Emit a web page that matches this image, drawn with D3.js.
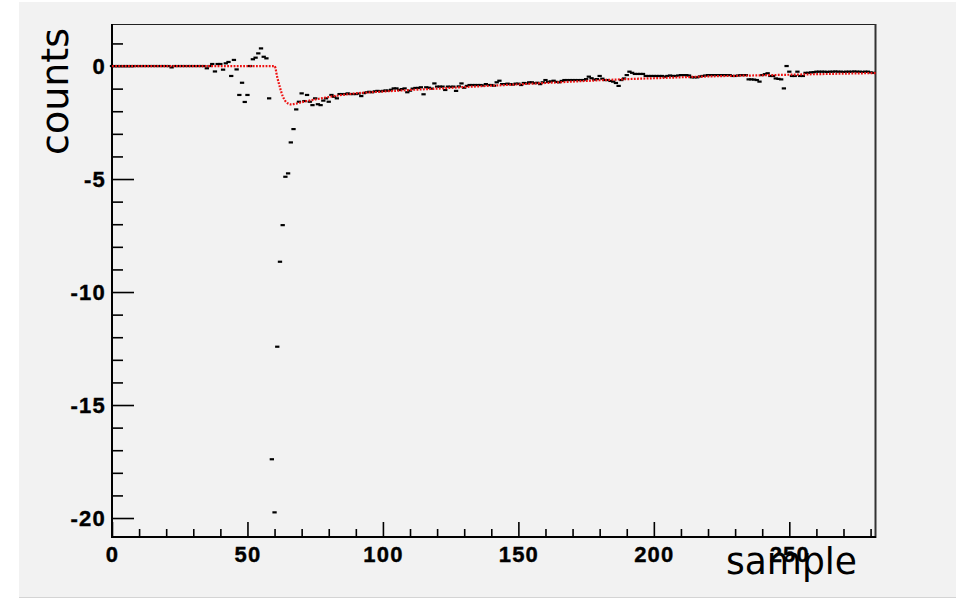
<!DOCTYPE html>
<html>
<head>
<meta charset="utf-8">
<script src="https://cdn.jsdelivr.net/npm/d3@7"></script>
<style>
	body { margin: 0; background: white; }
	svg { display: block; }
</style>
</head>
<body>
<svg id="chart" width="958" height="599"></svg>
<script>

// sample values, one per bin (bins 0..281)
let samples = [
	0, 0, 0, 0, 0, 0, 0, 0, 0, 0,
	0, 0, 0, 0, 0, 0, 0, 0, 0, 0,
	0, 0, -0.06, 0, 0, 0, 0, 0, 0, 0,
	0, 0, 0, 0, 0, -0.10, 0, 0.09, -0.24, 0.09,
	0.09, -0.16, 0.12, 0.18, -0.44, 0.27, -0.15, -1.28, -0.74, -1.59,
	-1.28, 0, 0.30, 0.37, 0.56, 0.78, 0.41, 0.34, -1.43, -17.4,
	-19.75, -12.42, -8.66, -7.04, -4.9, -4.75, -3.38, -2.79, -1.92, -1.58,
	-1.21, -1.55, -1.28, -1.58, -1.73, -1.43, -1.69, -1.73, -1.53, -1.43,
	-1.58, -1.28, -1.36, -1.43, -1.24, -1.24, -1.24, -1.21, -1.24, -1.24,
	-1.24, -1.22, -1.33, -1.20, -1.16, -1.14, -1.16, -1.12, -1.10, -1.12,
	-1.10, -1.08, -1.09, -1.05, -0.99, -0.99, -1.06, -1.02, -0.99, -1.16,
	-1.09, -1.00, -0.97, -0.97, -0.94, -1.25, -0.94, -0.96, -1.00, -0.77,
	-0.91, -0.91, -0.91, -1.06, -0.91, -0.92, -0.91, -1.10, -0.90, -0.77,
	-0.96, -0.88, -0.84, -0.84, -0.84, -0.84, -0.84, -0.86, -0.80, -0.84,
	-0.84, -0.87, -0.72, -0.65, -0.80, -0.80, -0.78, -0.80, -0.82, -0.78,
	-0.78, -0.84, -0.75, -0.77, -0.72, -0.72, -0.76, -0.74, -0.80, -0.72,
	-0.62, -0.70, -0.68, -0.65, -0.70, -0.72, -0.66, -0.62, -0.62, -0.62,
	-0.62, -0.62, -0.62, -0.62, -0.62, -0.58, -0.47, -0.54, -0.60, -0.58,
	-0.44, -0.56, -0.62, -0.62, -0.66, -0.69, -0.75, -0.88, -0.62, -0.55,
	-0.40, -0.25, -0.30, -0.35, -0.35, -0.35, -0.35, -0.44, -0.44, -0.44,
	-0.44, -0.44, -0.44, -0.44, -0.47, -0.44, -0.42, -0.44, -0.44, -0.42,
	-0.40, -0.40, -0.40, -0.42, -0.50, -0.50, -0.50, -0.46, -0.44, -0.42,
	-0.40, -0.40, -0.40, -0.40, -0.40, -0.40, -0.40, -0.40, -0.40, -0.44,
	-0.44, -0.42, -0.40, -0.40, -0.40, -0.59, -0.59, -0.60, -0.62, -0.69,
	-0.40, -0.36, -0.32, -0.44, -0.44, -0.55, -0.57, -0.59, -0.99, 0.0,
	-0.25, -0.44, -0.44, -0.25, -0.44, -0.44, -0.30, -0.30, -0.28, -0.27,
	-0.25, -0.25, -0.25, -0.25, -0.26, -0.25, -0.25, -0.24, -0.25, -0.25,
	-0.26, -0.25, -0.25, -0.25, -0.24, -0.25, -0.25, -0.26, -0.25, -0.25,
	-0.28, -0.30
];

// fit curve knots
let fitX = [0, 60, 61, 62, 63, 64, 65, 66, 68, 70, 75, 80, 85, 90, 100, 110, 120, 130, 140, 150, 160, 170, 180, 190, 200, 220, 240, 260, 282];
let fitY = [0, 0, -0.5, -0.95, -1.33, -1.55, -1.66, -1.7, -1.66, -1.6, -1.48, -1.37, -1.28, -1.21, -1.13, -1.06, -1.0, -0.93, -0.87, -0.81, -0.75, -0.69, -0.63, -0.58, -0.54, -0.46, -0.41, -0.36, -0.31];

let xMajor = [0, 50, 100, 150, 200, 250];
let xMinor = [10, 20, 30, 40, 60, 70, 80, 90, 110, 120, 130, 140, 160, 170, 180, 190, 210, 220, 230, 240, 260, 270, 280];
let yMajor = [0, -5, -10, -15, -20];
let yMinor = [1, -1, -2, -3, -4, -6, -7, -8, -9, -11, -12, -13, -14, -16, -17, -18, -19];

let svg = d3.select('#chart');

// grey canvas
svg.append('rect')
	.attr('x', 19).attr('y', 2)
	.attr('width', 937).attr('height', 595)
	.attr('fill', '#f2f2f2');
svg.append('line')
	.attr('x1', 19).attr('x2', 956)
	.attr('y1', 597.5).attr('y2', 597.5)
	.attr('stroke', '#d4d4d4');

let x = d3.scaleLinear().domain([0, 282]).range([112, 876]);
let y = d3.scaleLinear().domain([-20.84, 1.86]).range([537, 24]);

let tickFont = 'bold 22px "Liberation Sans", Arial, sans-serif';
let plain = d => String(d);  // keep a plain hyphen for negatives

// x axis
let gx = svg.append('g').attr('transform', 'translate(0,537)');
gx.call(d3.axisBottom(x).tickValues(xMajor).tickSize(-15).tickPadding(9).tickFormat(plain));
gx.append('g').call(d3.axisBottom(x).tickValues(xMinor).tickSize(-8).tickFormat(''));
gx.selectAll('.domain').remove();

// y axis
let gy = svg.append('g').attr('transform', 'translate(112,0)');
gy.call(d3.axisLeft(y).tickValues(yMajor).tickSize(-22).tickPadding(6).tickFormat(plain));
gy.append('g').call(d3.axisLeft(y).tickValues(yMinor).tickSize(-11).tickFormat(''));
gy.selectAll('.domain').remove();

svg.selectAll('.tick text')
	.style('font', tickFont)
	.style('letter-spacing', '1.2px')
	.attr('fill', 'black')
	.attr('stroke', 'black')
	.attr('stroke-width', 0.4);
svg.selectAll('.tick line').attr('stroke', 'black').attr('stroke-width', 1.6);

// frame
svg.append('line').attr('x1', 112).attr('x2', 876).attr('y1', 24.5).attr('y2', 24.5).attr('stroke', '#222').attr('stroke-width', 1);
svg.append('line').attr('x1', 875.5).attr('x2', 875.5).attr('y1', 24).attr('y2', 538).attr('stroke', '#333').attr('stroke-width', 2);
svg.append('line').attr('x1', 112).attr('x2', 112).attr('y1', 24).attr('y2', 538).attr('stroke', 'black').attr('stroke-width', 2);
svg.append('line').attr('x1', 111).attr('x2', 876).attr('y1', 537).attr('y2', 537).attr('stroke', 'black').attr('stroke-width', 2);

// samples as short bin-wide dashes
svg.append('g')
	.selectAll('line')
	.data(samples)
	.join('line')
	.attr('x1', (d, i) => x(i - 0.5) - 0.8)
	.attr('x2', (d, i) => x(i + 0.5) + 0.8)
	.attr('y1', d => y(d))
	.attr('y2', d => y(d))
	.attr('stroke', 'black')
	.attr('stroke-width', 2.2);

// fit, dotted red
let fitLine = d3.line()
	.x(d => x(d[0]))
	.y(d => y(d[1]))
	.curve(d3.curveMonotoneX);
svg.append('path')
	.attr('d', fitLine(d3.zip(fitX, fitY)))
	.attr('fill', 'none')
	.attr('stroke', '#ee1111')
	.attr('stroke-width', 2.2)
	.attr('stroke-dasharray', '1.8,1.4');

// axis titles
svg.append('text')
	.attr('transform', 'translate(68,91.5) rotate(-90)')
	.attr('text-anchor', 'middle')
	.attr('textLength', 127)
	.attr('lengthAdjust', 'spacingAndGlyphs')
	.style('font', '38px "DejaVu Sans", sans-serif')
	.text('counts');
svg.append('text')
	.attr('x', 857).attr('y', 574)
	.attr('text-anchor', 'end')
	.attr('textLength', 131)
	.attr('lengthAdjust', 'spacingAndGlyphs')
	.style('font', '38px "DejaVu Sans", sans-serif')
	.text('sample');

</script>
</body>
</html>
